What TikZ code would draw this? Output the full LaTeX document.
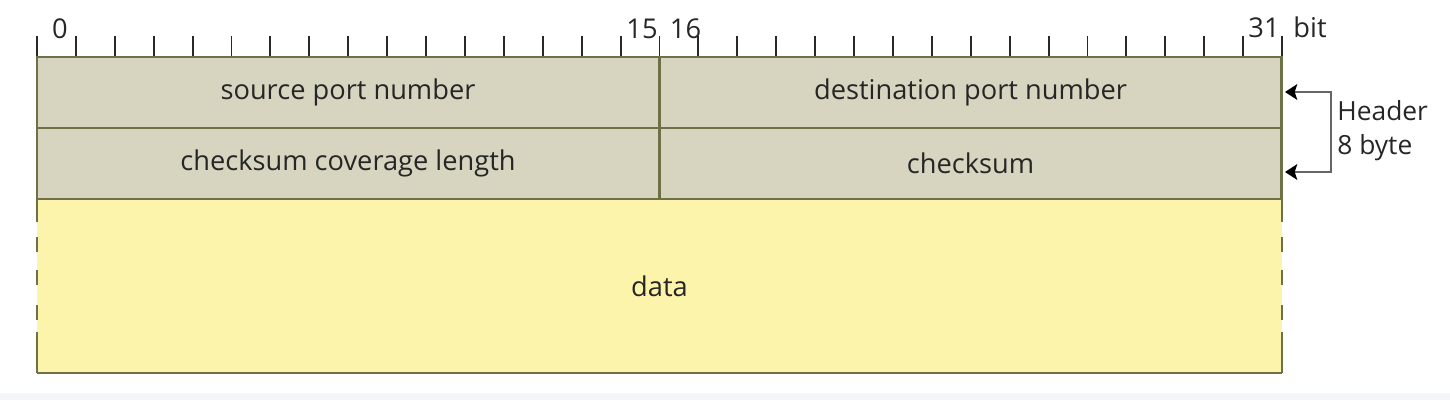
\documentclass[tikz,border=0pt]{standalone}
\usepackage{fontspec}
\usetikzlibrary{arrows.meta}
\setmainfont{Open Sans}
\definecolor{hdrgray}{RGB}{215,213,192}
\definecolor{datayellow}{RGB}{252,244,170}
\definecolor{frame}{RGB}{110,112,70}
\definecolor{tickgray}{RGB}{40,40,40}
\definecolor{pagestrip}{RGB}{244,245,248}
\begin{document}
\begin{tikzpicture}[
        x=0.02cm, y=-0.02cm,
        field/.style={rectangle, draw=frame, fill=hdrgray, line width=1.3pt, minimum width=12.44cm, minimum height=1.42cm, inner sep=0pt, text=black!85, font=\fontsize{15.5}{18}\selectfont},
        datafield/.style={rectangle, fill=datayellow, minimum width=24.9cm, minimum height=3.48cm, inner sep=0pt, text=black!85, font=\fontsize{15.5}{18}\selectfont},
        edge/.style={draw=frame, line width=1.3pt},
        tick/.style={draw=tickgray, line width=1.1pt},
        bitlabel/.style={anchor=base, inner sep=0pt, text=black!85, font=\fontsize{15.5}{18}\selectfont},
        arrow/.style={{Stealth[length=7pt, width=9pt, inset=1.5pt, color=black]}-{Stealth[length=7pt, width=9pt, inset=1.5pt, color=black]}, draw=black!60, line width=0.9pt}
    ]
        \useasboundingbox (0,0) rectangle (1450,400);
        \fill[pagestrip] (0,393) rectangle (1450,400);

        % Data area
        \node[datafield] (data) at (659.5,286) {data};
        \draw[edge] (data.south west) -- (data.south east);
        \foreach \a/\b in {199/222, 237/252, 270/285, 305/320, 332/373}
            \draw[edge] (37,\a) -- (37,\b) (1282,\a) -- (1282,\b);

        % Header fields
        \node[field] (srcport) at (348,92.5) {source port number};
        \node[field] (dstport) at (970.5,92.5) {destination port number};
        \node[field] (coverage) at (348,163.5) {checksum coverage length};
        \node[field] (checksum) at (970.5,163.5) {checksum};

        % Bit ruler
        \foreach \i in {0,...,32}
            \draw[tick] (37+\i*38.906,36) -- (37+\i*38.906,56);
        \node[bitlabel] (bitzero) at (60,38) {0};
        \node[bitlabel] (bitfifteen) at (642,38) {15};
        \node[bitlabel] (bitsixteen) at (685.5,38) {16};
        \node[bitlabel] (bitthirtyone) at (1264,37) {31};
        \node[bitlabel] (bitunit) at (1310,37) {bit};

        % Header length
        \coordinate (hdrtop) at (1285,92);
        \coordinate (hdrbot) at (1285,172);
        \draw[arrow] (hdrtop) -- ++(46,0) |- (hdrbot);
        \node[anchor=west, align=left, inner sep=0pt, text=black!85, font=\fontsize{15}{19.5}\selectfont] (hdrlabel) at (1337,131) {Header\\8 byte};

    \end{tikzpicture}
\end{document}
